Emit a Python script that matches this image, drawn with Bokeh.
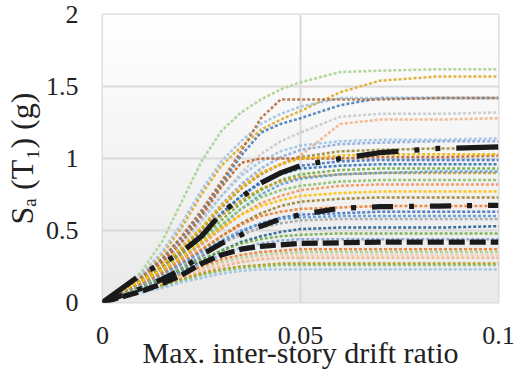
import numpy as np
from bokeh.plotting import figure
from bokeh.models import FixedTicker, Range1d
from bokeh.embed import file_html
from bokeh.resources import INLINE

# Maximum inter-story drift ratio sampled along every IDA curve
drift = [0, 0.005, 0.01, 0.015, 0.02, 0.025, 0.03, 0.035, 0.04, 0.045, 0.05, 0.06, 0.07, 0.085, 0.1]

# Sa(T1) in g of each ground-motion record at the drift values above
record_sa = [
    [0, .10, .22, .42, .70, .98, 1.19, 1.32, 1.41, 1.48, 1.53, 1.60, 1.61, 1.62, 1.62],
    [0, .09, .19, .33, .52, .75, .95, 1.08, 1.20, 1.27, 1.33, 1.46, 1.54, 1.57, 1.57],
    [0, .09, .18, .30, .45, .62, .82, 1.02, 1.18, 1.24, 1.28, 1.37, 1.42, 1.42, 1.42],
    [0, .10, .20, .35, .55, .78, .98, 1.12, 1.24, 1.31, 1.36, 1.42, 1.42, 1.42, 1.42],
    [0, .09, .18, .30, .46, .64, .84, 1.05, 1.28, 1.41, 1.41, 1.41, 1.41, 1.42, 1.42],
    [0, .08, .16, .27, .40, .56, .74, .90, 1.03, 1.12, 1.18, 1.29, 1.31, 1.31, 1.32],
    [0, .08, .15, .25, .36, .50, .66, .80, .90, .96, 1.02, 1.24, 1.27, 1.27, 1.28],
    [0, .09, .17, .28, .42, .58, .74, .88, .98, 1.05, 1.09, 1.12, 1.13, 1.13, 1.14],
    [0, .08, .16, .26, .38, .52, .68, .82, .93, 1.01, 1.06, 1.10, 1.11, 1.12, 1.12],
    [0, .08, .15, .25, .37, .51, .66, .79, .89, .96, 1.01, 1.05, 1.06, 1.07, 1.07],
    [0, .09, .17, .28, .42, .60, .80, .97, 1.00, 1.00, 1.00, 1.00, 1.01, 1.01, 1.02],
    [0, .08, .16, .26, .38, .52, .67, .80, .90, .96, 1.00, 1.02, 1.03, 1.03, 1.03],
    [0, .07, .14, .23, .34, .47, .61, .74, .84, .91, .95, .98, .99, .99, .99],
    [0, .08, .15, .24, .35, .48, .62, .74, .83, .89, .93, .95, .96, .96, .96],
    [0, .07, .14, .22, .32, .44, .57, .69, .78, .85, .89, .92, .93, .93, .93],
    [0, .08, .15, .24, .35, .47, .60, .71, .79, .84, .87, .89, .90, .90, .90],
    [0, .07, .13, .21, .30, .41, .53, .65, .75, .82, .86, .89, .90, .91, .91],
    [0, .07, .14, .22, .31, .42, .54, .65, .73, .78, .81, .84, .85, .85, .85],
    [0, .07, .13, .21, .30, .40, .51, .61, .69, .74, .78, .81, .82, .82, .82],
    [0, .08, .15, .23, .32, .42, .52, .61, .67, .71, .74, .76, .77, .77, .77],
    [0, .06, .12, .19, .27, .36, .46, .55, .62, .67, .70, .72, .73, .73, .73],
    [0, .07, .13, .20, .28, .37, .46, .54, .60, .63, .65, .66, .67, .67, .67],
    [0, .06, .11, .17, .24, .32, .41, .49, .55, .59, .61, .62, .63, .63, .63],
    [0, .06, .12, .19, .27, .35, .43, .50, .55, .58, .59, .60, .60, .60, .60],
    [0, .06, .12, .18, .25, .33, .41, .47, .52, .55, .57, .58, .58, .58, .58],
    [0, .05, .10, .16, .22, .29, .36, .42, .46, .49, .51, .52, .52, .52, .53],
    [0, .06, .11, .17, .23, .30, .36, .41, .44, .46, .47, .48, .48, .48, .48],
    [0, .05, .10, .15, .21, .27, .33, .38, .41, .43, .44, .44, .44, .44, .44],
    [0, .05, .09, .14, .19, .25, .30, .33, .35, .36, .37, .37, .37, .37, .37],
    [0, .05, .09, .13, .18, .23, .28, .31, .33, .34, .35, .35, .35, .35, .35],
    [0, .05, .09, .13, .18, .23, .27, .30, .32, .33, .33, .33, .33, .33, .33],
    [0, .04, .08, .12, .17, .21, .25, .28, .30, .31, .31, .31, .31, .31, .31],
    [0, .04, .08, .12, .16, .20, .23, .25, .26, .27, .27, .27, .27, .27, .27],
    [0, .04, .08, .11, .15, .19, .22, .24, .25, .26, .26, .26, .26, .26, .26],
    [0, .04, .07, .10, .14, .17, .20, .22, .23, .23, .23, .23, .23, .23, .23],
]

record_colors = [
    "#A9D18E", "#DDA827", "#4A7EBB", "#9DC3E6", "#B3703F", "#C9C9C9", "#F4B183",
    "#9DC3E6", "#8FAADC", "#A08A3C", "#C0652A", "#F2B705", "#4472C4", "#2E75B6",
    "#70AD47", "#C99A1E", "#5B9BD5", "#8CC168", "#F1975A", "#FFC000", "#9C8130",
    "#ED7D31", "#4472C4", "#5B9BD5", "#A5A5A5", "#255E91", "#70AD47", "#7F9FCF",
    "#ED7D31", "#A9D18E", "#F8CBAD", "#F4B183", "#BF9000", "#8CC168", "#9DC3E6",
]

# 16th, 50th and 84th percentile IDA curves
sa_16 = [0, .04, .08, .13, .19, .27, .33, .37, .39, .40, .41, .415, .42, .42, .42]
sa_50 = [0, .05, .10, .16, .23, .33, .41, .47, .53, .58, .61, .655, .665, .67, .675]
sa_84 = [0, .10, .20, .27, .35, .46, .62, .73, .83, .90, .95, 1.00, 1.04, 1.07, 1.08]

x_ticks = [0, 0.05, 0.1]
x_tick_labels = ["0", "0.05", "0.1"]
y_ticks = [0, 0.5, 1, 1.5, 2]
y_tick_labels = ["0", "0.5", "1", "1.5", "2"]

SERIF = "Liberation Serif"

p = figure(width=521, height=381, output_backend="svg", toolbar_location=None,
           x_range=Range1d(0, 0.1), y_range=Range1d(0, 2),
           min_border_left=100, min_border_right=23, min_border_top=14, min_border_bottom=79)
p.background_fill_color = "white"
p.border_fill_color = "white"
p.outline_line_color = "#d9d9d9"
p.outline_line_width = 2

# soft vertical shading of the plot area, light grey at the bottom to white at the top
n_shade = 128
shade = np.linspace(234, 255, n_shade).astype(np.uint8)
img = np.empty((n_shade, 1), dtype=np.uint32)
rgba = img.view(dtype=np.uint8).reshape((n_shade, 1, 4))
rgba[:, 0, 0] = shade
rgba[:, 0, 1] = shade
rgba[:, 0, 2] = shade
rgba[:, 0, 3] = 255
p.image_rgba(image=[img], x=0, y=0, dw=0.1, dh=2, level="image")

for sa, col in zip(record_sa, record_colors):
    p.line(drift, sa, line_color=col, line_width=2.5, line_dash="3 2", line_alpha=0.9)

black = "#1a1a1a"
p.line(drift, sa_16, line_color=black, line_width=5.25, line_dash="16 5")
p.line(drift, sa_50, line_color=black, line_width=5.25, line_dash="21 16 5 16")
p.line(drift, sa_84, line_color=black, line_width=5.25, line_dash="42 16 5 16 5 16")

for ax in (p.xaxis[0], p.yaxis[0]):
    ax.axis_line_color = None
    ax.major_tick_line_color = None
    ax.minor_tick_line_color = None
    ax.major_tick_in = 0
    ax.major_tick_out = 0
    ax.minor_tick_in = 0
    ax.minor_tick_out = 0
    ax.major_label_text_font = SERIF
    ax.major_label_text_font_size = "26px"
    ax.major_label_text_color = "#222222"
    ax.axis_label_text_font = SERIF
    ax.axis_label_text_font_style = "normal"
    ax.axis_label_text_color = "#222222"

p.xaxis.axis_label_text_font_size = "30px"
p.yaxis.axis_label_text_font_size = "32px"

p.xaxis.ticker = FixedTicker(ticks=x_ticks)
p.xaxis.major_label_overrides = dict(zip(x_ticks, x_tick_labels))
p.yaxis.ticker = FixedTicker(ticks=y_ticks)
p.yaxis.major_label_overrides = dict(zip(y_ticks, y_tick_labels))
p.xaxis.major_label_standoff = 24
p.yaxis.major_label_standoff = 24
p.xaxis.axis_label = "Max. inter-story drift ratio"
p.yaxis.axis_label = "S\u2090 (T\u2081) (g)"
p.xaxis.axis_label_standoff = -11
p.yaxis.axis_label_standoff = 3

p.xgrid.grid_line_color = "#d9d9d9"
p.ygrid.grid_line_color = "#d9d9d9"
p.xgrid.grid_line_width = 2
p.ygrid.grid_line_width = 2

open("out.html", "w").write(file_html(p, INLINE))
